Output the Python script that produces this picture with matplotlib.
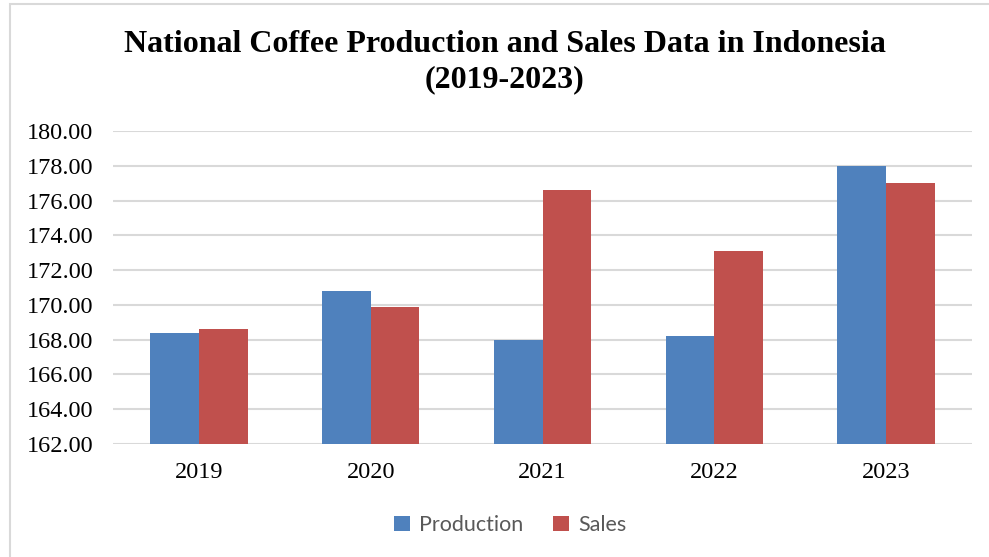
import numpy as np
import matplotlib
matplotlib.use("Agg")
import matplotlib.pyplot as plt
from matplotlib.patches import Rectangle

# ── DATA ──────────────────────────────────────────────────────────────────────
years = ["2019", "2020", "2021", "2022", "2023"]
production = [168.4, 170.8, 168.0, 168.2, 178.0]
sales = [168.6, 169.9, 176.6, 173.1, 177.0]
y_ticks = [162, 164, 166, 168, 170, 172, 174, 176, 178, 180]

BLUE = "#4F81BD"
RED = "#C0504D"
GRID = "#D9D9D9"
SERIF = ["Liberation Serif", "DejaVu Serif"]

fig = plt.figure(figsize=(9.89, 5.57), dpi=100)
W, H = 989, 557

# light frame around the chart
fig.patches.append(Rectangle((10 / W, -0.01), 1.0, 1 - 4 / H + 0.01,
                             transform=fig.transFigure, fill=False,
                             edgecolor="#D9D9D9", linewidth=1.5))

ax = fig.add_axes([113 / W, 1 - 444 / H, (972 - 113) / W, (444 - 131) / H])

x = np.arange(len(years))
bw = 0.283
ax.bar(x - bw / 2, production, bw, color=BLUE, label="Production", zorder=3)
ax.bar(x + bw / 2, sales, bw, color=RED, label="Sales", zorder=3)

ax.set_ylim(162, 180)
ax.set_xlim(-0.5, len(years) - 0.5)
ax.set_yticks(y_ticks)
ax.set_yticklabels([f"{v:.2f}" for v in y_ticks], fontfamily=SERIF,
                   fontsize=17.5)
ax.set_xticks(x)
ax.set_xticklabels(years, fontfamily=SERIF, fontsize=17.5)
ax.tick_params(axis="both", length=0)
ax.tick_params(axis="y", pad=14)
ax.tick_params(axis="x", pad=13)
ax.grid(axis="y", color=GRID, linewidth=1.5, zorder=0)
for s in ax.spines.values():
    s.set_visible(False)

fig.text(505 / W, 1 - 45 / H,
         "National Coffee Production and Sales Data in Indonesia",
         ha="center", va="center", fontfamily=SERIF, fontweight="bold",
         fontsize=23)
fig.text(505 / W, 1 - 80 / H, "(2019-2023)",
         ha="center", va="center", fontfamily=SERIF, fontweight="bold",
         fontsize=23)

leg = fig.legend(loc="center", bbox_to_anchor=(510 / W, 1 - 525 / H), ncol=2,
                 frameon=False, handlelength=0.75, handleheight=0.75,
                 handletextpad=0.4, columnspacing=1.4,
                 prop={"family": ["Lato", "DejaVu Sans"], "size": 15.5})
for t in leg.get_texts():
    t.set_color("#595959")

fig.savefig("out.png", dpi=100)
